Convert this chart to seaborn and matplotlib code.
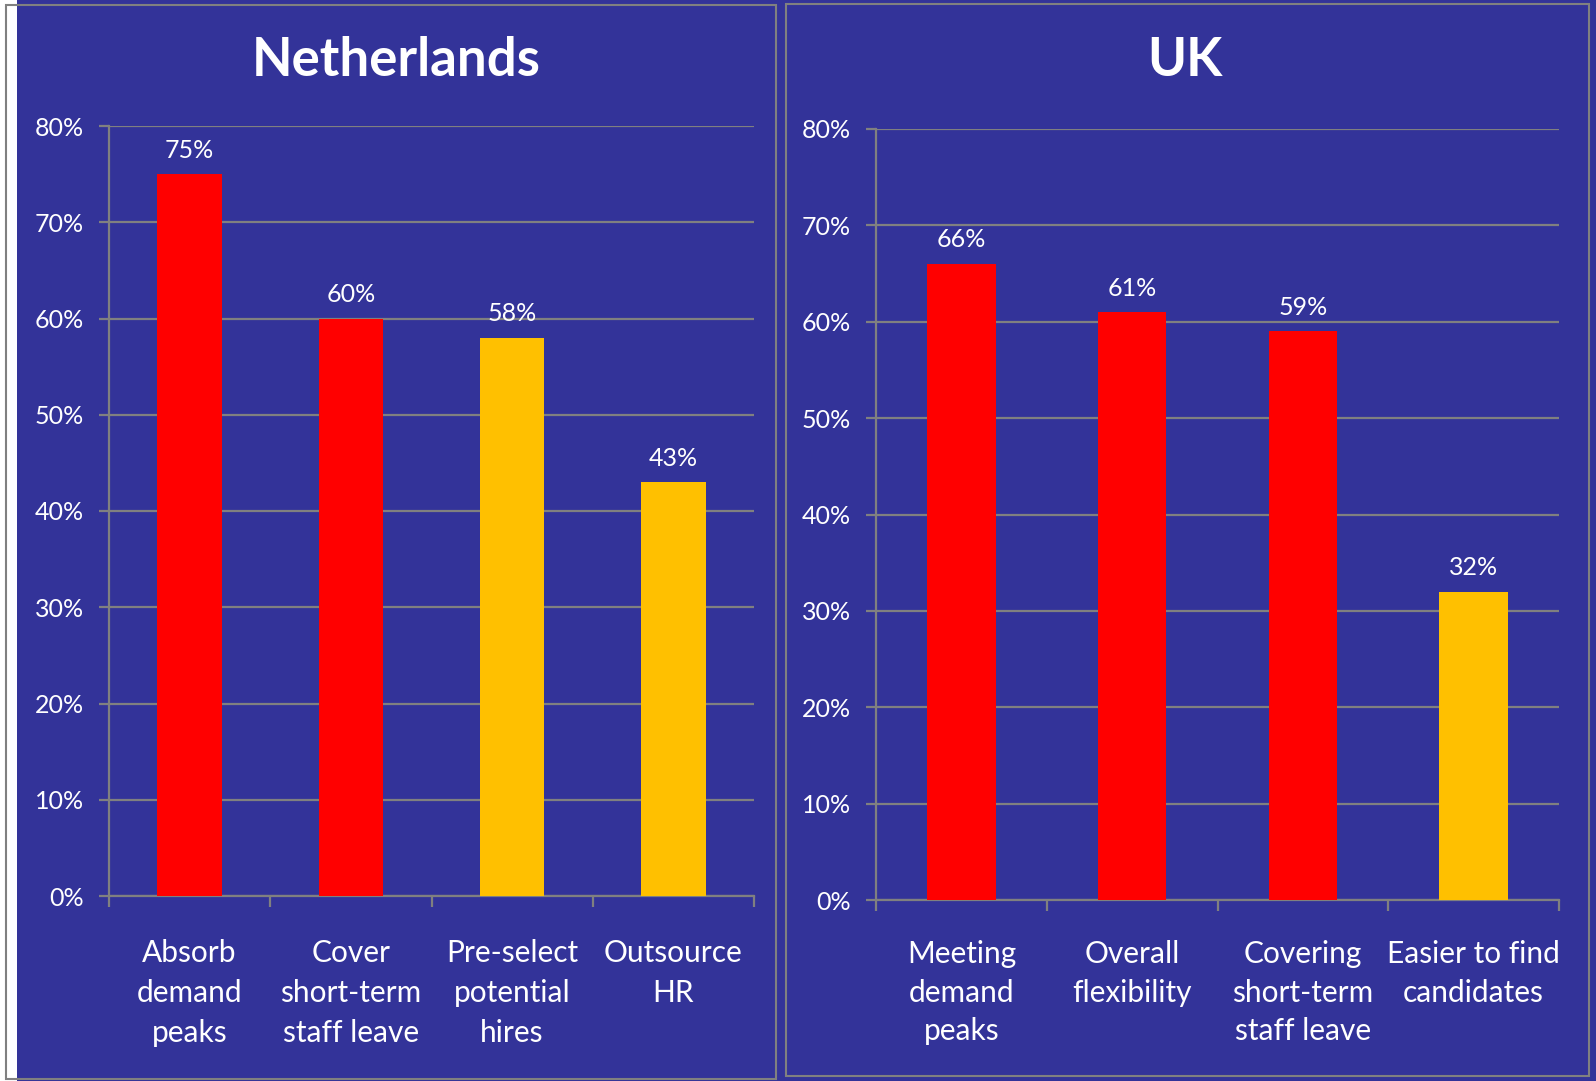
import matplotlib
matplotlib.use("Agg")
import matplotlib.pyplot as plt
from matplotlib.patches import Rectangle
from matplotlib.ticker import FixedLocator, PercentFormatter
import seaborn as sns
import pandas as pd

# ---- data ----
nl_categories = ["Absorb\ndemand\npeaks", "Cover\nshort-term\nstaff leave",
                 "Pre-select\npotential\nhires", "Outsource\nHR"]
nl_values = [75, 60, 58, 43]
nl_colors = ["#FF0000", "#FF0000", "#FFC000", "#FFC000"]

uk_categories = ["Meeting\ndemand\npeaks", "Overall\nflexibility",
                 "Covering\nshort-term\nstaff leave", "Easier to find\ncandidates"]
uk_values = [66, 61, 59, 32]
uk_colors = ["#FF0000", "#FF0000", "#FF0000", "#FFC000"]

y_ticks = [0, 10, 20, 30, 40, 50, 60, 70, 80]

BLUE = "#333399"
GREY = "#808080"
FONT = ["Lato", "DejaVu Sans"]

sns.set_style("white")
plt.rcParams["font.family"] = FONT

W, H = 1596, 1081
fig = plt.figure(figsize=(W / 100, H / 100), dpi=100, facecolor=BLUE)

def fx(px):
    return px / W

def fy(py):
    return 1 - py / H

# panel decorations (pixel-based)
fig.patches.append(Rectangle((0, 0), fx(17), 1, transform=fig.transFigure,
                             facecolor="white", edgecolor="none", zorder=0))
fig.patches.append(Rectangle((fx(6), fy(1079)), fx(776 - 6), fy(5) - fy(1079),
                             transform=fig.transFigure, facecolor="none",
                             edgecolor=GREY, linewidth=1.5, zorder=1))
fig.patches.append(Rectangle((fx(786), fy(1076)), fx(1589 - 786), fy(4) - fy(1076),
                             transform=fig.transFigure, facecolor="none",
                             edgecolor=GREY, linewidth=1.5, zorder=1))


def draw(ax_rect, title, title_x, cats, vals, cols, label_pad, spacing):
    ax = fig.add_axes(ax_rect)
    ax.set_facecolor("none")
    df = pd.DataFrame({"cat": cats, "val": vals})
    sns.barplot(data=df, x="cat", y="val", hue="cat", palette=cols,
                width=0.4, legend=False, ax=ax, saturation=1, zorder=3,
                linewidth=0, edgecolor="none")
    ax.set_xlim(-0.5, len(cats) - 0.5)
    ax.set_ylim(0, 80)
    ax.yaxis.set_major_locator(FixedLocator(y_ticks))
    ax.yaxis.set_major_formatter(PercentFormatter(decimals=0))
    ax.grid(axis="y", color=GREY, linewidth=1.6, zorder=0)
    ax.set_axisbelow(True)
    for s in ["top", "right"]:
        ax.spines[s].set_visible(False)
    for s in ["left", "bottom"]:
        ax.spines[s].set_color(GREY)
        ax.spines[s].set_linewidth(1.6)
    ax.set_xlabel("")
    ax.set_ylabel("")
    ax.tick_params(axis="y", colors=GREY, labelcolor="white", labelsize=18,
                   length=7, width=1.6, direction="out", pad=11, left=True)
    ax.set_xticks(range(len(cats)))
    ax.set_xticklabels(cats, color="white", fontsize=21.5, linespacing=spacing)
    ax.tick_params(axis="x", which="major", length=0, pad=label_pad)
    ax.set_xticks([i - 0.5 for i in range(len(cats) + 1)], minor=True)
    ax.tick_params(axis="x", which="minor", length=8, width=1.6, colors=GREY,
                   direction="out", bottom=True)
    for i, v in enumerate(vals):
        ax.annotate(f"{v}%", (i, v), xytext=(0, 9), textcoords="offset points",
                    ha="center", va="bottom", color="white", fontsize=18)
    fig.text(title_x, fy(61), title, ha="center", va="center", color="white",
             fontsize=38, fontweight="bold")
    return ax


draw([fx(109), fy(896), fx(754 - 109), fy(126) - fy(896)], "Netherlands",
     fx(396), nl_categories, nl_values, nl_colors, 31, 1.53)
draw([fx(876), fy(900), fx(1559 - 876), fy(129) - fy(900)], "UK",
     fx(1185), uk_categories, uk_values, uk_colors, 29, 1.45)

fig.savefig("out.png", dpi=100, facecolor=BLUE)
